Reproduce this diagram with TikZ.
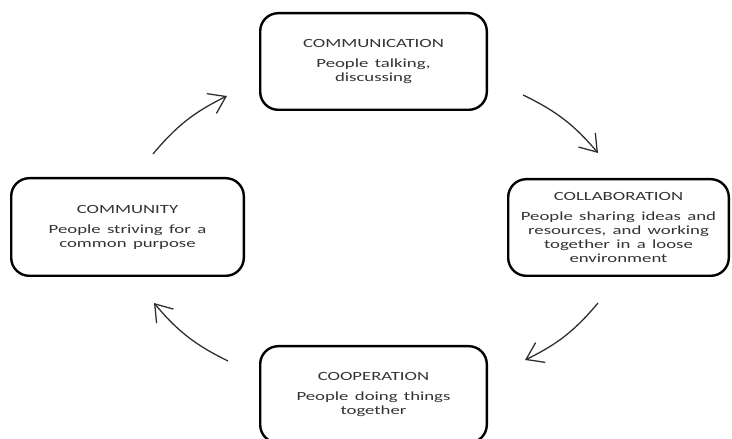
\documentclass[tikz,border=0pt]{standalone}
\usepackage{fontspec}
\setmainfont[FakeStretch=1.5, WordSpace=1.5]{Carlito}
\usepackage{xcolor}
\usetikzlibrary{arrows.meta}

\definecolor{textgray}{HTML}{333333}
\definecolor{linegray}{HTML}{303030}

\begin{document}
\begin{tikzpicture}[x=1pt, y=1pt,
  stage/.style={draw=black, line width=2.4pt, rounded corners=18pt, inner sep=0pt,
    align=center, text=textgray, font=\fontsize{12.5}{14}\selectfont},
  flow/.style={draw=linegray, line width=1.3pt,
    -{Straight Barb[length=16pt, width=22pt, line width=1.3pt]}}
]
\useasboundingbox (0,0) rectangle (732,439);

% the four stages
\node[stage, minimum width=226.6pt, minimum height=96.6pt] (comm) at (373.5,377.5)
  {COMMUNICATION\\[6pt] People talking,\\ discussing};
\node[stage, minimum width=220.6pt, minimum height=96.6pt] (collab) at (618.5,211.5)
  {COLLABORATION\\[6pt] People sharing ideas and\\ resources, and working\\ together in a loose\\ environment};
\node[stage, minimum width=226.6pt, minimum height=96.6pt] (coop) at (373.5,44.5)
  {COOPERATION\\[6pt] People doing things\\ together};
\node[stage, minimum width=232.6pt, minimum height=97.6pt] (cmty) at (127.5,212)
  {COMMUNITY\\[6pt] People striving for a\\ common purpose};

% free ends of the curved arrows
\coordinate (a1) at (153,285);
\coordinate (b1) at (227,343);
\coordinate (a2) at (523,344);
\coordinate (b2) at (598,286);
\coordinate (a3) at (598,136);
\coordinate (b3) at (525,79);
\coordinate (a4) at (228,78);
\coordinate (b4) at (154,136);

\draw[flow] (a1) to[bend left=12] (b1);
\draw[flow] (a2) to[bend left=12] (b2);
\draw[flow] (a3) to[bend left=12] (b3);
\draw[flow] (a4) to[bend left=12] (b4);
\end{tikzpicture}
\end{document}
